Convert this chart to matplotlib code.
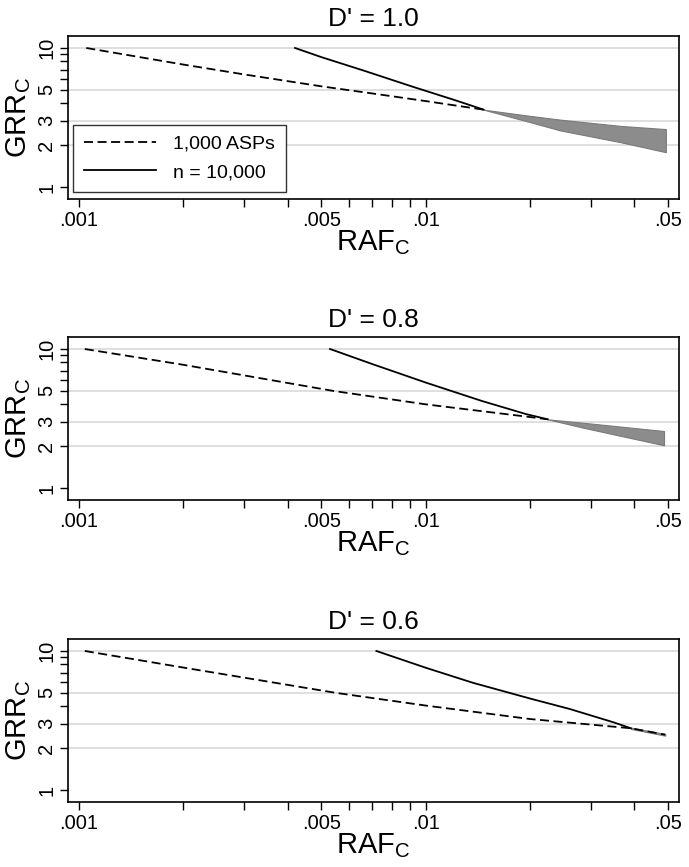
import matplotlib
matplotlib.use("Agg")
import matplotlib.pyplot as plt
from matplotlib.ticker import NullFormatter

plt.rcParams['font.family'] = ['Liberation Sans', 'DejaVu Sans']
plt.rcParams['mathtext.fontset'] = 'custom'
plt.rcParams['mathtext.rm'] = 'Liberation Sans'

# values (RAF_C on x, GRR_C on y)
titles = ["D' = 1.0", "D' = 0.8", "D' = 0.6"]

asp1_x = [0.00105, 0.002, 0.003, 0.005, 0.0075, 0.01, 0.0147]
asp1_y = [10, 7.6, 6.45, 5.3, 4.6, 4.15, 3.6]
n1_x = [0.0042, 0.005, 0.0066, 0.0091, 0.0122, 0.0147]
n1_y = [10, 8.6, 6.9, 5.3, 4.2, 3.6]
shade1_x = [0.0147, 0.020, 0.0245, 0.0365, 0.0493]
shade1_hi = [3.6, 3.25, 3.05, 2.75, 2.61]
shade1_lo = [3.6, 2.93, 2.55, 2.10, 1.78]

asp2_x = [0.00104, 0.002, 0.0054, 0.01, 0.02, 0.0225]
asp2_y = [10, 7.7, 5.0, 4.0, 3.24, 3.12]
n2_x = [0.0053, 0.00702, 0.01, 0.01452, 0.0195, 0.0225]
n2_y = [10, 7.79, 5.74, 4.23, 3.4, 3.12]
shade2_x = [0.0225, 0.0284, 0.0487]
shade2_hi = [3.12, 2.95, 2.57]
shade2_lo = [3.12, 2.72, 2.03]

asp3_x = [0.00104, 0.002, 0.0055, 0.01, 0.02, 0.0391, 0.0491]
asp3_y = [10, 7.6, 5.0, 4.05, 3.24, 2.78, 2.5]
n3_x = [0.00721, 0.01, 0.0137, 0.02, 0.026, 0.0348, 0.0391]
n3_y = [10, 7.58, 5.9, 4.55, 3.83, 3.07, 2.78]
shade3_x = [0.0391, 0.0491]
shade3_hi = [2.81, 2.53]
shade3_lo = [2.75, 2.46]

panels = [
    (asp1_x, asp1_y, n1_x, n1_y, shade1_x, shade1_hi, shade1_lo),
    (asp2_x, asp2_y, n2_x, n2_y, shade2_x, shade2_hi, shade2_lo),
    (asp3_x, asp3_y, n3_x, n3_y, shade3_x, shade3_hi, shade3_lo),
]

xticks = [0.001, 0.005, 0.01, 0.05]
xticklabels = ['.001', '.005', '.01', '.05']
xminor = [0.002, 0.003, 0.004, 0.006, 0.007, 0.008, 0.009, 0.02, 0.03, 0.04]
yticks = [1, 2, 3, 5, 10]
yticklabels = ['1', '2', '3', '5', '10']
yminor = [4, 6, 7, 8, 9]
ygrid = [2, 3, 5, 10]

fig = plt.figure(figsize=(6.89, 8.67), dpi=100)
bottoms = [0.7705, 0.4233, 0.0750]

for i, (ax_x, ax_y, nx, ny, sx, shi, slo) in enumerate(panels):
    ax = fig.add_axes([0.098, bottoms[i], 0.8875, 0.188])
    ax.set_xscale('log')
    ax.set_yscale('log')
    ax.set_xlim(0.000927, 0.0538)
    ax.set_ylim(0.82, 12.2)
    for g in ygrid:
        ax.axhline(g, color='#dcdcdc', lw=1.3, zorder=0)
    ax.fill_between(sx, slo, shi, color='#8c8c8c', edgecolor='#7a7a7a', lw=0.8, zorder=2)
    ax.plot(ax_x, ax_y, color='black', lw=1.3, ls=(0, (5, 2.5)), label='1,000 ASPs', zorder=3)
    ax.plot(nx, ny, color='black', lw=1.3, label='n = 10,000', zorder=3)

    ax.set_xticks(xticks)
    ax.set_xticklabels(xticklabels)
    ax.set_xticks(xminor, minor=True)
    ax.xaxis.set_minor_formatter(NullFormatter())
    ax.set_yticks(yticks)
    ax.set_yticklabels(yticklabels, rotation=90, va='center')
    ax.set_yticks(yminor, minor=True)
    ax.yaxis.set_minor_formatter(NullFormatter())
    ax.tick_params(axis='both', which='major', length=6, width=1, labelsize=14.5, color='black')
    ax.tick_params(axis='both', which='minor', length=5.5, width=1, color='black')
    ax.tick_params(axis='x', pad=3)
    ax.tick_params(axis='y', pad=2)
    for sp in ax.spines.values():
        sp.set_linewidth(1.2)
        sp.set_color('black')

    ax.set_title(titles[i], fontsize=19, pad=7)
    ax.set_xlabel(r'RAF$_\mathregular{C}$', fontsize=21)
    ax.xaxis.set_label_coords(0.5, -0.18)
    ax.set_ylabel(r'GRR$_\mathregular{C}$', fontsize=21)
    ax.yaxis.set_label_coords(-0.056, 0.5)

    if i == 0:
        ax.legend(loc='lower left', bbox_to_anchor=(0.009, 0.043), borderaxespad=0,
                  fontsize=14, handlelength=3.7, handletextpad=0.9, labelspacing=0.55,
                  borderpad=0.55, fancybox=False, framealpha=1, edgecolor='#333333')

fig.savefig('out.png', dpi=100)
